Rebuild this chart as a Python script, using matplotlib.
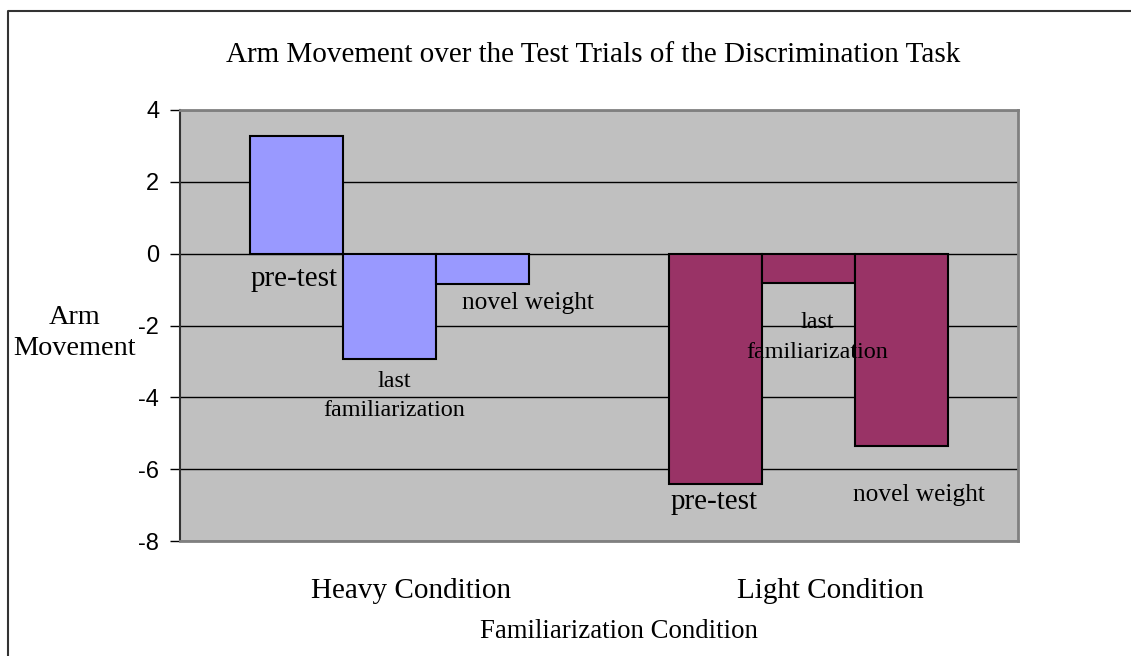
"""
Arm movement over the test trials of the discrimination task
"""

import matplotlib
matplotlib.use("Agg")
import matplotlib.pyplot as plt
import matplotlib.transforms as mtransforms
from matplotlib.lines import Line2D

plt.rcParams['font.family'] = ['Liberation Serif', 'DejaVu Serif']

conditions = ["Heavy Condition", "Light Condition"]
phases = ["pre-test", "last\nfamiliarization", "novel weight"]
heavy = [3.28, -2.93, -0.85]
light = [-6.42, -0.81, -5.36]
y_ticks = [4, 2, 0, -2, -4, -6, -8]

colors = ['#9999FF', '#993366']
# label offsets in pixels from the bar end (dx, dy) and font sizes, per phase
label_offsets = [
    [(-2, -25), (5, -37), (45, -19)],
    [(-1, -18), (9, -55), (17, -49)],
]
label_sizes = [21, 17.4, 18.3]

fig = plt.figure(figsize=(11.31, 6.56), dpi=100)
ax = fig.add_axes([180 / 1131, 1 - 541 / 656, (1018 - 180) / 1131, (541 - 110) / 656])
ax.set_facecolor('#C0C0C0')

bar_w = 1 / (3 * 1.5)
for ci, vals in enumerate([heavy, light]):
    for pi, v in enumerate(vals):
        x = ci + (pi - 1) * bar_w
        ax.bar(x, v, width=bar_w, color=colors[ci], edgecolor='black',
               linewidth=1.5, zorder=3)
        dx, dy = label_offsets[ci][pi]
        ax.annotate(phases[pi], xy=(x, min(v, 0)), xytext=(dx, dy),
                    textcoords='offset pixels', ha='center', va='center',
                    fontsize=label_sizes[pi], linespacing=1.55, zorder=4)

ax.set_xlim(-0.5, 1.5)
ax.set_ylim(-8, 4)
ax.set_yticks(y_ticks)
ax.set_yticklabels([str(t) for t in y_ticks], family='Liberation Sans', fontsize=17)
ax.tick_params(axis='y', direction='out', length=7, width=1, color='black', pad=8)

ax.set_xticks(range(len(conditions)))
ax.set_xticklabels(conditions, fontsize=21)
ax.tick_params(axis='x', length=0, pad=27)
offset = mtransforms.ScaledTranslation(22 / 100, 0, fig.dpi_scale_trans)
for lab in ax.get_xticklabels():
    lab.set_transform(lab.get_transform() + offset)

ax.grid(axis='y', color='black', linewidth=1, zorder=1)
ax.set_axisbelow(True)

for side in ['top', 'right', 'bottom']:
    ax.spines[side].set_color('#808080')
    ax.spines[side].set_linewidth(2)
ax.spines['left'].set_color('#333333')
ax.spines['left'].set_linewidth(1.5)

fig.text(593.5 / 1131, 1 - 55 / 656,
         'Arm Movement over the Test Trials of the Discrimination Task',
         ha='center', va='center', fontsize=21)
fig.text(619 / 1131, 1 - 631 / 656, 'Familiarization Condition',
         ha='center', va='center', fontsize=19.3)
fig.text(75 / 1131, 1 - 333 / 656, 'Arm\nMovement', ha='center', va='center',
         fontsize=20.3, linespacing=1.3, multialignment='center')

# outer chart frame (left and top edges visible)
fig.add_artist(Line2D([8 / 1131, 8 / 1131, 1.0], [0.0, 1 - 11 / 656, 1 - 11 / 656],
                      transform=fig.transFigure, color='#333333', linewidth=1.5))

plt.savefig('out.png', dpi=100)
